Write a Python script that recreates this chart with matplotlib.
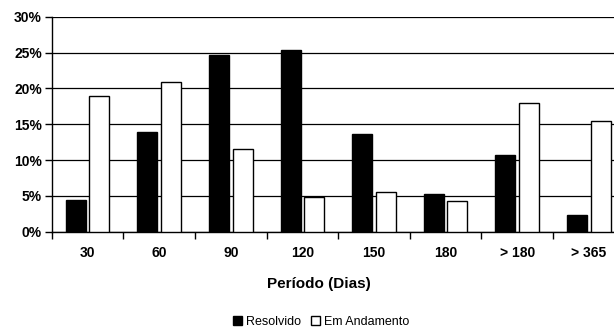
import matplotlib
matplotlib.use("Agg")
import matplotlib.pyplot as plt
import numpy as np
from matplotlib.patches import Patch

categories = ["30", "60", "90", "120", "150", "180", "> 180", "> 365"]
resolvido = [4.4, 13.9, 24.7, 25.4, 13.7, 5.3, 10.7, 2.3]
em_andamento = [18.9, 20.9, 11.6, 4.8, 5.6, 4.3, 18.0, 15.5]
yticks = [0, 5, 10, 15, 20, 25, 30]

plt.rcParams['font.family'] = ['Liberation Sans', 'DejaVu Sans']

fig = plt.figure(figsize=(6.14, 3.29), dpi=100)
ax = fig.add_axes([51.7/614, 97.3/329, 573/614, 215/329])

x = np.arange(len(categories))
w = 0.28
off = 0.165
ax.bar(x - off, resolvido, w, color='black', edgecolor='black', linewidth=1, zorder=3, label='Resolvido')
ax.bar(x + off, em_andamento, w, color='white', edgecolor='black', linewidth=1, zorder=3, label='Em Andamento')

ax.set_xlim(-0.5, len(categories) - 0.5)
ax.set_ylim(0, 30)
ax.set_yticks(yticks)
ax.set_yticklabels([f"{v}%" for v in yticks], fontweight='bold', fontsize=10)
ax.yaxis.grid(True, color='black', linewidth=0.9, zorder=0)
ax.set_axisbelow(True)

ax.set_xticks(x)
ax.set_xticklabels(categories, fontweight='bold', fontsize=10)
ax.tick_params(axis='x', length=0, pad=10)
ax.set_xticks(np.arange(len(categories) + 1) - 0.5, minor=True)
ax.tick_params(axis='x', which='minor', length=5, width=1, direction='out')
ax.tick_params(axis='y', length=5, width=1, direction='out', pad=2)

for s in ['top', 'right']:
    ax.spines[s].set_visible(False)
ax.spines['left'].set_linewidth(1)
ax.spines['bottom'].set_linewidth(1)

fig.text(319/614, 1 - 284/329, "Período (Dias)", fontweight='bold', fontsize=11,
         ha='center', va='center')

handles = [Patch(facecolor='black', edgecolor='black', label='Resolvido'),
           Patch(facecolor='white', edgecolor='black', label='Em Andamento')]
fig.legend(handles=handles, loc='center', bbox_to_anchor=(321/614, 1 - 322/329), ncol=2,
           frameon=False, fontsize=9, handlelength=0.75, handleheight=0.75,
           handletextpad=0.3, columnspacing=0.8, borderpad=0)

fig.savefig("out.png", dpi=100)
